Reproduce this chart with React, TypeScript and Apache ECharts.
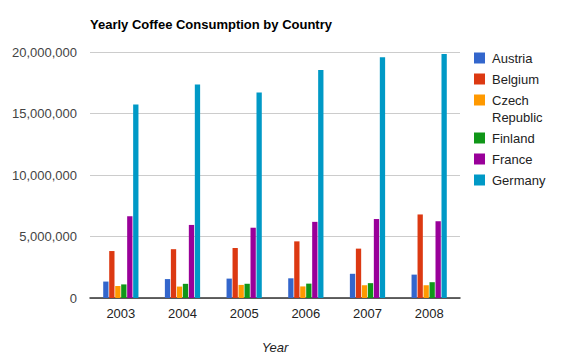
import React, { useEffect, useRef } from "react";
import * as echarts from "echarts";

const years = ["2003", "2004", "2005", "2006", "2007", "2008"];
const countries = ["Austria", "Belgium", "Czech Republic", "Finland", "France", "Germany"];
const legendLabels = [["Austria"], ["Belgium"], ["Czech", "Republic"], ["Finland"], ["France"], ["Germany"]];
const colors = ["#3366cc", "#dc3912", "#ff9900", "#109618", "#990099", "#0099c6"];

const austria = [1336060, 1538156, 1576579, 1600652, 1968113, 1901067];
const belgium = [3817614, 3968305, 4063225, 4604684, 4013653, 6792087];
const czech = [974066, 928875, 1063414, 940478, 1037079, 1037327];
const finland = [1104797, 1151983, 1156441, 1167979, 1207029, 1284795];
const france = [6651824, 5940129, 5714009, 6190532, 6420270, 6240921];
const germany = [15727003, 17356071, 16716049, 18542843, 19564053, 19830493];
const seriesValues = [austria, belgium, czech, finland, france, germany];

const yTicks = { min: 0, max: 20000000, interval: 5000000 };

const FONT = "'Liberation Sans', Arial, sans-serif";

export default function App() {
  const ref = useRef<HTMLDivElement>(null);
  useEffect(() => {
    if (!ref.current) return;
    const chart = echarts.init(ref.current, null, { renderer: "svg" });

    const legendGraphics: any[] = [];
    let y = 52;
    legendLabels.forEach((lines, i) => {
      legendGraphics.push({
        type: "rect",
        shape: { x: 474, y: y + 0.5, width: 11, height: 11 },
        style: { fill: colors[i] },
      });
      legendGraphics.push({
        type: "text",
        x: 492,
        y: y - 2,
        style: {
          text: lines.join("\n"),
          font: `13px ${FONT}`,
          fill: "#222222",
          lineHeight: 17,
          verticalAlign: "top",
        },
      });
      y += lines.length === 1 ? 21 : 38;
    });

    chart.setOption({
      animation: false,
      textStyle: { fontFamily: FONT },
      title: {
        text: "Yearly Coffee Consumption by Country",
        left: 90,
        top: 18,
        padding: 0,
        textStyle: { fontSize: 13, fontWeight: "bold", color: "#000", fontFamily: FONT },
      },
      grid: { left: 90, right: 110, top: 52, bottom: 60, containLabel: false, outerBoundsMode: "none" },
      xAxis: {
        type: "category",
        data: years,
        name: "Year",
        nameLocation: "middle",
        nameGap: 43,
        nameTextStyle: { fontStyle: "italic", fontSize: 13, color: "#222", fontFamily: FONT },
        axisLine: { lineStyle: { color: "#333", width: 1.5 } },
        axisTick: { show: false },
        axisLabel: { fontSize: 13, color: "#222", margin: 9, fontFamily: FONT },
      },
      yAxis: {
        type: "value",
        min: yTicks.min,
        max: yTicks.max,
        interval: yTicks.interval,
        axisLine: { show: false },
        axisTick: { show: false },
        splitLine: { lineStyle: { color: "#cccccc" } },
        axisLabel: {
          fontSize: 13,
          color: "#444",
          margin: 13,
          fontFamily: FONT,
          formatter: (v: number) => v.toLocaleString("en-US"),
        },
      },
      series: countries.map((name, i) => ({
        name,
        type: "bar",
        data: seriesValues[i],
        barWidth: 5.3,
        barGap: "13%",
        itemStyle: { color: colors[i] },
      })),
      graphic: legendGraphics,
    });
    return () => chart.dispose();
  }, []);

  return (
    <div
      ref={ref}
      style={{ position: "fixed", left: 0, top: 0, width: 570, height: 358, background: "#fff" }}
    />
  );
}
